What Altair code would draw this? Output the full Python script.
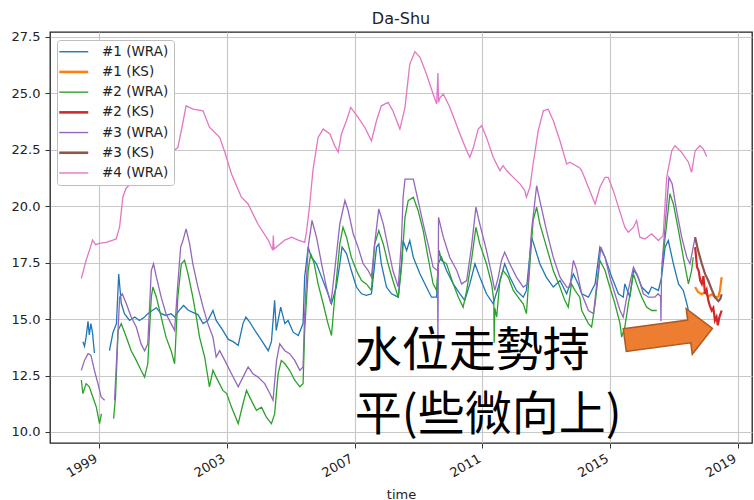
import altair as alt
import pandas as pd

# Series names and colours (matplotlib tab10 order)
SERIES = ["#1 (WRA)", "#1 (KS)", "#2 (WRA)", "#2 (KS)", "#3 (WRA)", "#3 (KS)", "#4 (WRA)"]
COLORS = ["#1f77b4", "#ff7f0e", "#2ca02c", "#d62728", "#9467bd", "#8c564b", "#e377c2"]

# Time in decimal years, groundwater level in metres. None marks a gap in the record.
WRA1_T = [1998.5, 1998.55, 1998.6, 1998.66, 1998.7, 1998.75, 1998.8, 1998.86, None,
          1999.33, 1999.44, 1999.55, 1999.62, 1999.7, 1999.8, 1999.96, 2000.12, 2000.27, 2000.43,
          2000.53, 2000.69, 2000.8, 2000.95, 2001.1, 2001.26, 2001.37, 2001.52, 2001.65, 2001.79,
          2001.94, 2002.1, 2002.26, 2002.41, 2002.57, 2002.67, 2002.88, 2003.05, 2003.2, 2003.36,
          2003.51, 2003.6, 2003.72, 2003.88, 2004.09, 2004.3, 2004.4, 2004.5, 2004.55, 2004.69,
          2004.82, 2004.92, 2005.08, 2005.24, 2005.39, 2005.44, 2005.55, 2005.65, 2005.81, 2005.97,
          2006.17, 2006.28, 2006.43, 2006.54, 2006.61, 2006.75, 2006.9, 2007.06, 2007.22, 2007.37,
          2007.53, 2007.69, 2007.76, 2007.84, 2008.0, 2008.16, 2008.37, 2008.47, 2008.52, 2008.63,
          2008.73, 2008.84, 2009.05, 2009.25, 2009.41, 2009.57, 2009.62, 2009.72, 2009.88, 2010.09,
          2010.3, 2010.45, 2010.61, 2010.77, 2010.92, 2011.13, 2011.34, 2011.5, 2011.7, 2011.86,
          2012.07, 2012.28, 2012.38, 2012.54, 2012.64, 2012.8, 2013.0, 2013.22, 2013.43, 2013.64,
          2013.85, 2014.0, 2014.11, 2014.32, 2014.53, 2014.68, 2014.84, 2015.05, 2015.26, 2015.41,
          2015.46, 2015.62, 2015.73, 2015.83, 2015.99, 2016.2, 2016.3, 2016.51, 2016.61, 2016.72,
          2016.82, 2016.98, 2017.14, 2017.29, 2017.4, 2017.45]
WRA1_V = [14.0, 13.8, 14.2, 14.9, 14.3, 14.8, 14.4, 13.5, None,
          13.6, 14.4, 14.8, 17.0, 15.7, 15.24, 14.94, 15.09, 14.94, 15.09,
          15.24, 15.4, 15.5, 15.24, 15.16, 15.24, 15.09, 15.4, 15.6, 15.4,
          15.3, 15.2, 14.8, 14.94, 15.38, 14.94, 14.5, 14.1, 14.0, 13.83,
          14.8, 15.09, 14.87, 14.5, 14.06, 13.6, 14.0, 15.83, 14.5, 15.53,
          14.8, 14.94, 14.42, 14.27, 14.8, 16.86, 18.19, 17.74, 17.45, 16.86,
          16.12, 15.68, 16.42, 17.45, 18.19, 17.9, 17.15, 16.42, 16.12, 16.05,
          16.12, 18.19, 18.33, 17.45, 16.42, 16.12, 15.97, 17.45, 18.48, 18.04,
          18.48, 17.74, 17.0, 16.42, 15.97, 15.97, 17.45, 17.74, 17.15, 16.56,
          16.12, 15.83, 16.56, 17.45, 16.86, 16.12, 15.68, 16.42, 17.45, 16.86,
          16.27, 15.97, 16.27, 18.63, 18.19, 17.45, 16.86, 16.42, 16.71, 16.12,
          17.0, 16.56, 16.12, 15.97, 16.56, 18.19, 17.74, 16.86, 16.12, 15.97,
          16.56, 15.97, 17.15, 17.0, 16.42, 16.12, 16.42, 16.27, 16.86, 18.19,
          18.48, 17.45, 16.56, 16.27, 15.68, 15.38]

WRA2_T = [1998.45, 1998.5, 1998.6, 1998.7, 1998.81, 1998.92, 1999.02, 1999.08, None,
          1999.46, 1999.52, 1999.6, 1999.7, 1999.86, 2000.01, 2000.17, 2000.32, 2000.43, 2000.53,
          2000.64, 2000.69, 2000.8, 2000.95, 2001.1, 2001.26, 2001.37, 2001.47, 2001.58, 2001.68,
          2001.79, 2001.94, 2002.05, 2002.15, 2002.31, 2002.46, 2002.57, 2002.67, 2002.88, 2003.0,
          2003.15, 2003.36, 2003.51, 2003.62, 2003.77, 2003.93, 2004.09, 2004.24, 2004.4, 2004.5,
          2004.61, 2004.71, 2004.82, 2004.97, 2005.13, 2005.29, 2005.39, 2005.44, 2005.55, 2005.63,
          2005.74, 2005.86, 2006.02, 2006.17, 2006.28, 2006.38, 2006.54, 2006.64, 2006.75, 2006.9,
          2007.06, 2007.22, 2007.37, 2007.53, 2007.63, 2007.76, 2007.9, 2008.05, 2008.2, 2008.37,
          2008.47, 2008.58, 2008.68, 2008.84, 2008.99, 2009.15, 2009.3, 2009.46, 2009.57, 2009.65,
          2009.72, 2009.88, 2010.09, 2010.25, 2010.4, 2010.51, 2010.66, 2010.8, 2010.92, 2011.13,
          2011.29, 2011.36, 2011.37, 2011.39, 2011.45, 2011.55, 2011.65, 2011.81, 2011.97, 2012.12,
          2012.28, 2012.38, 2012.49, 2012.59, 2012.7, 2012.8, 2013.01, 2013.22, 2013.43, 2013.58,
          2013.69, 2013.79, 2013.9, 2014.05, 2014.11, 2014.32, 2014.42, 2014.53, 2014.68, 2014.84,
          2014.99, 2015.15, 2015.31, 2015.36, 2015.46, 2015.57, 2015.73, 2015.83, 2015.99, 2016.14,
          2016.3, 2016.46, None,
          2016.63, 2016.77, 2016.87, 2016.98, 2017.14, 2017.29, 2017.45, 2017.55, 2017.6]
WRA2_V = [12.3, 11.7, 12.14, 12.0, 11.55, 11.1, 10.37, 10.8, None,
          10.59, 11.55, 14.5, 14.8, 14.2, 13.6, 13.17, 12.73, 12.43, 13.02,
          15.97, 16.42, 15.97, 15.09, 14.2, 13.6, 13.02, 15.97, 17.45, 17.6,
          17.0, 15.97, 15.09, 14.2, 13.32, 12.0, 12.73, 12.43, 11.84, 11.7,
          11.1, 10.37, 11.25, 11.84, 11.4, 10.96, 11.1, 10.66, 10.37, 10.8,
          12.58, 13.17, 13.02, 12.73, 12.29, 12.0, 12.14, 14.5, 17.15, 17.9,
          17.45, 16.56, 15.68, 14.8, 14.27, 15.97, 18.33, 19.07, 18.63, 17.74,
          17.15, 16.71, 16.56, 16.27, 18.33, 18.92, 18.33, 17.45, 16.71, 15.97,
          17.3, 19.51, 20.25, 20.4, 19.81, 18.92, 17.74, 16.56, 16.27, 18.04,
          17.6, 17.45, 16.56, 15.97, 15.53, 16.27, 17.6, 19.07, 18.33, 17.45,
          16.56, 15.83, 13.95, 15.5, 15.09, 16.71, 17.15, 16.86, 16.27, 15.97,
          15.68, 15.24, 17.45, 19.37, 19.96, 19.22, 18.19, 17.15, 16.42, 15.83,
          15.53, 16.56, 16.27, 15.97, 15.38, 14.8, 14.65, 15.68, 17.6, 17.15,
          16.42, 15.68, 14.8, 14.2, 14.65, 15.68, 17.0, 16.56, 15.97, 15.53,
          15.38, 15.38, None,
          17.45, 19.22, 20.55, 20.1, 18.92, 17.74, 16.56, 17.15, 17.74]

WRA3_T = [1998.45, 1998.55, 1998.66, 1998.75, 1998.86, 1998.97, 1999.07, 1999.18, None,
          1999.49, 1999.6, 1999.65, 1999.73, 1999.86, 2000.01, 2000.17, 2000.32, 2000.43, 2000.53,
          2000.64, 2000.71, 2000.8, 2000.95, 2001.1, 2001.26, 2001.37, 2001.47, 2001.56, 2001.63,
          2001.73, 2001.84, 2001.94, 2002.1, 2002.26, 2002.41, 2002.57, 2002.67, 2002.78, 2002.94,
          2003.15, 2003.36, 2003.51, 2003.67, 2003.82, 2003.98, 2004.19, 2004.35, 2004.45, 2004.56,
          2004.66, 2004.82, 2004.97, 2005.13, 2005.29, 2005.39, 2005.44, 2005.55, 2005.67, 2005.81,
          2005.97, 2006.12, 2006.26, 2006.38, 2006.54, 2006.7, 2006.8, 2006.96, 2007.11, 2007.27,
          2007.43, 2007.53, 2007.63, 2007.76, 2007.9, 2008.05, 2008.2, 2008.37, 2008.47, 2008.52,
          2008.58, 2008.84, 2008.99, 2009.15, 2009.3, 2009.46, 2009.6, 2009.61, 2009.63, 2009.78,
          2009.98, 2010.2, 2010.35, 2010.51, 2010.66, 2010.8, 2010.92, 2011.13, 2011.29, 2011.39,
          2011.5, 2011.6, 2011.7, 2011.86, 2012.07, 2012.28, 2012.43, 2012.54, 2012.7, 2012.8,
          2013.01, 2013.22, 2013.43, 2013.64, 2013.74, 2013.85, 2013.95, 2014.11, 2014.32, 2014.48,
          2014.58, 2014.71, 2014.84, 2014.99, 2015.15, 2015.31, 2015.41, 2015.52, 2015.73, 2015.88,
          2016.04, 2016.2, 2016.4, 2016.5, 2016.58, 2016.59, 2016.61, 2016.74, 2016.84, 2016.94,
          2017.08, 2017.24, 2017.4, 2017.5, 2017.58, 2017.66]
WRA3_V = [12.73, 13.17, 13.47, 13.4, 12.73, 12.14, 11.55, 11.4, None,
          11.4, 14.5, 15.97, 16.12, 15.68, 15.09, 14.65, 13.9, 13.6, 13.9,
          17.15, 17.45, 16.86, 15.97, 15.24, 14.8, 14.5, 16.56, 18.19, 18.48,
          19.0, 18.33, 17.45, 16.42, 15.53, 14.8, 14.2, 13.32, 13.6, 13.17,
          12.58, 12.0, 12.43, 12.88, 12.58, 12.43, 12.14, 11.7, 11.4, 13.17,
          13.9, 13.6, 13.47, 13.17, 12.73, 12.88, 15.24, 18.19, 19.37, 18.63,
          17.45, 16.42, 15.68, 17.15, 19.22, 20.25, 19.81, 18.78, 18.19, 17.45,
          17.15, 16.86, 18.33, 19.88, 19.22, 18.19, 17.15, 16.42, 18.5, 20.4,
          21.2, 21.2, 20.25, 19.22, 18.33, 17.3, 17.15, 13.8, 19.51, 18.63,
          17.74, 17.15, 16.56, 16.71, 18.19, 19.96, 19.22, 18.04, 17.0, 16.27,
          16.86, 17.6, 17.96, 17.45, 16.86, 16.42, 16.56, 18.92, 20.91, 20.25,
          18.92, 17.74, 16.86, 16.42, 16.42, 17.6, 17.2, 16.12, 15.38, 15.24,
          16.56, 18.19, 17.74, 16.86, 16.12, 15.38, 15.09, 15.97, 17.3, 16.86,
          16.12, 15.97, 15.97, 16.12, 16.0, 14.9, 17.15, 19.51, 21.28, 21.0,
          19.81, 18.63, 17.74, 17.45, 18.04, 18.63]

WRA4_T = [1998.45, 1998.6, 1998.76, 1998.8, 1998.9, 1999.0, 1999.23, 1999.44, 1999.54, 1999.65,
          1999.75, 1999.85, 2000.3, 2000.9, 2001.47, 2001.6, 2001.73, 2001.94, 2002.26, 2002.46,
          2002.78, 2002.94, 2003.15, 2003.46, 2003.67, 2003.98, 2004.3, 2004.44, 2004.46, 2004.48,
          2004.82, 2005.03, 2005.24, 2005.44, 2005.5, 2005.6, 2005.7, 2005.86, 2006.02, 2006.23,
          2006.38, 2006.49, 2006.59, 2006.75, 2006.88, 2007.11, 2007.32, 2007.53, 2007.69, 2007.84,
          2008.05, 2008.2, 2008.42, 2008.58, 2008.73, 2008.89, 2009.05, 2009.25, 2009.46, 2009.57,
          2009.61, 2009.63, 2009.67, 2009.78, 2009.98, 2010.3, 2010.51, 2010.61, 2010.72, 2010.87,
          2010.98, 2011.13, 2011.34, 2011.55, 2011.65, 2011.76, 2011.97, 2012.18, 2012.33, 2012.38,
          2012.49, 2012.59, 2012.75, 2012.91, 2013.06, 2013.22, 2013.43, 2013.64, 2013.74, 2014.05,
          2014.11, 2014.32, 2014.53, 2014.68, 2014.84, 2014.94, 2015.1, 2015.26, 2015.46, 2015.57,
          2015.73, 2015.83, 2015.93, 2016.09, 2016.3, 2016.51, 2016.66, 2016.77, 2016.93, 2017.03,
          2017.24, 2017.45, 2017.55, 2017.66, 2017.81, 2017.92, 2018.02]
WRA4_V = [16.8, 17.6, 18.3, 18.5, 18.3, 18.35, 18.4, 18.5, 18.55, 19.1,
          20.4, 20.8, 21.4, 22.0, 22.6, 23.5, 24.45, 24.3, 24.23, 23.5,
          23.05, 22.4, 21.43, 20.4, 20.1, 19.2, 18.5, 18.05, 18.7, 18.1,
          18.5, 18.63, 18.5, 18.4, 18.9, 20.1, 21.6, 23.05, 23.42, 23.2,
          22.68, 22.4, 23.2, 23.8, 24.38, 23.94, 23.5, 22.9, 23.8, 24.45,
          24.6, 24.23, 23.42, 24.38, 26.3, 26.85, 26.6, 25.86, 24.97, 24.53,
          25.9, 24.6, 24.8, 24.97, 24.4, 23.2, 22.46, 22.17, 22.6, 23.42,
          23.57, 23.05, 22.17, 21.58, 21.8, 21.58, 21.28, 20.99, 20.69, 20.4,
          20.84, 21.87, 23.35, 24.23, 24.3, 23.8, 22.9, 21.87, 21.95, 21.7,
          21.58, 20.84, 20.1, 20.84, 21.28, 21.28, 20.69, 19.96, 19.07, 18.85,
          19.07, 19.37, 18.63, 18.55, 18.78, 18.48, 18.7, 21.28, 22.46, 22.68,
          22.39, 21.95, 21.5, 22.46, 22.68, 22.53, 22.2]

KS1_T = [2017.66, 2017.75, 2017.87, 2017.97, 2018.07, 2018.18, 2018.28, 2018.39, 2018.44, 2018.49]
KS1_V = [16.42, 16.2, 16.1, 16.2, 16.0, 16.1, 15.97, 16.0, 16.3, 16.86]

KS2_T = [2017.66, 2017.72, 2017.77, 2017.82, 2017.87, 2017.92, 2017.97, 2018.02, 2018.07,
         2018.12, 2018.18, 2018.23, 2018.28, 2018.33, 2018.37, 2018.42, 2018.49]
KS2_V = [18.19, 17.3, 17.15, 16.7, 16.56, 16.9, 16.12, 16.3, 15.83,
         15.6, 15.38, 15.5, 14.94, 15.1, 14.72, 15.09, 15.38]

KS3_T = [2017.66, 2017.76, 2017.87, 2017.97, 2018.07, 2018.18, 2018.28, 2018.39, 2018.45, 2018.49]
KS3_V = [18.63, 18.0, 17.45, 17.0, 16.71, 16.3, 15.97, 15.8, 15.9, 16.1]

# Annotation text (two lines) and the arrow pointing at the recent KS records
NOTE_TEXT = ["水位走勢持", "平(些微向上)"]
NOTE_T = [2007.01, 2007.01]
NOTE_V = [13.55, 10.72]
ARROW_T = [2016.83]
ARROW_V = [14.33]

X_TICKS = [1999, 2003, 2007, 2011, 2015, 2019]
Y_TICKS = [10.0, 12.5, 15.0, 17.5, 20.0, 22.5, 25.0, 27.5]


def to_rows(name, ts, vs):
    rows, part = [], 0
    for t, v in zip(ts, vs):
        if v is None:
            part += 1
            continue
        rows.append({"series": name, "part": f"{name}/{part}", "year": t, "level": v})
    return rows


wra = pd.DataFrame(
    to_rows("#1 (WRA)", WRA1_T, WRA1_V)
    + to_rows("#2 (WRA)", WRA2_T, WRA2_V)
    + to_rows("#3 (WRA)", WRA3_T, WRA3_V)
    + to_rows("#4 (WRA)", WRA4_T, WRA4_V)
)
ks = pd.DataFrame(
    to_rows("#1 (KS)", KS1_T, KS1_V)
    + to_rows("#2 (KS)", KS2_T, KS2_V)
    + to_rows("#3 (KS)", KS3_T, KS3_V)
)
notes = pd.DataFrame({"year": NOTE_T, "level": NOTE_V, "text": NOTE_TEXT})
arrow = pd.DataFrame({"year": ARROW_T, "level": ARROW_V})

FONT = "DejaVu Sans"

x_enc = alt.X(
    "year:Q",
    scale=alt.Scale(domain=[1997.47, 2019.44], nice=False, zero=False),
    axis=alt.Axis(values=X_TICKS, format="d", title="time", labelAngle=330,
                  labelAlign="right", labelBaseline="top", labelPadding=4, labelOffset=-6,
                  titleY=55, titleBaseline="alphabetic"),
)
y_enc = alt.Y(
    "level:Q",
    scale=alt.Scale(domain=[9.51, 27.72], nice=False, zero=False),
    axis=alt.Axis(values=Y_TICKS, format=".1f", title=None, labelPadding=5),
)

legend = alt.Legend(
    title=None, orient="none", legendX=7, legendY=8,
    fillColor="white", strokeColor="#bdbdbd", cornerRadius=3, padding=5,
    labelFont=FONT, labelFontSize=13.5, labelColor="#222222", labelLimit=200,
    symbolType="stroke", symbolSize=841, symbolOffset=5, labelOffset=21.5, rowPadding=5.2,
    # KS records are drawn with a heavier line
    symbolStrokeWidth=alt.ExprRef(
        expr="indexof(['#1 (KS)','#2 (KS)','#3 (KS)'], datum.value) >= 0 ? 2.6 : 1.4"),
)
color_enc = alt.Color("series:N", scale=alt.Scale(domain=SERIES, range=COLORS), legend=legend)

wra_lines = alt.Chart(wra).mark_line(strokeWidth=1.3, clip=True).encode(
    x=x_enc, y=y_enc, color=color_enc, detail="part:N"
)
ks_lines = alt.Chart(ks).mark_line(strokeWidth=2.2, clip=True).encode(
    x=x_enc, y=y_enc, color=color_enc, detail="part:N"
)
note = alt.Chart(notes).mark_text(
    align="left", baseline="middle", font="Noto Sans CJK TC", fontSize=47, color="black"
).encode(x=x_enc, y=y_enc, text="text:N")

ARROW_PATH = "M-1,-0.26 L0.47,-0.26 L0.47,-0.52 L1,0 L0.47,0.52 L0.47,0.26 L-1,0.26 Z"
arrow_mark = alt.Chart(arrow).mark_point(
    shape=ARROW_PATH, filled=True, size=7830, angle=352.4,
    fill="#ed7d31", stroke="#ae5a21", strokeWidth=1.5, opacity=1,
).encode(x=x_enc, y=y_enc)

chart = (
    alt.layer(wra_lines, ks_lines, note, arrow_mark)
    .properties(
        width=702, height=411,
        title=alt.TitleParams("Da-Shu", font=FONT, fontSize=16, fontWeight="normal",
                              color="#222222", offset=4, anchor="middle"),
        autosize=alt.AutoSizeParams(type="none"),
        padding={"left": 50, "top": 32, "right": 2, "bottom": 57},
    )
    .configure_view(stroke="#222222", strokeWidth=1.3)
    .configure_axis(
        grid=True, gridColor="#c8c8c8", gridWidth=1.2, domain=False,
        tickColor="#333333", tickSize=5,
        labelFont=FONT, labelFontSize=13, labelColor="#222222",
        titleFont=FONT, titleFontSize=13, titleFontWeight="normal", titleColor="#222222",
    )
)

chart.save("out.html", embed_options={"renderer": "svg", "actions": False})
